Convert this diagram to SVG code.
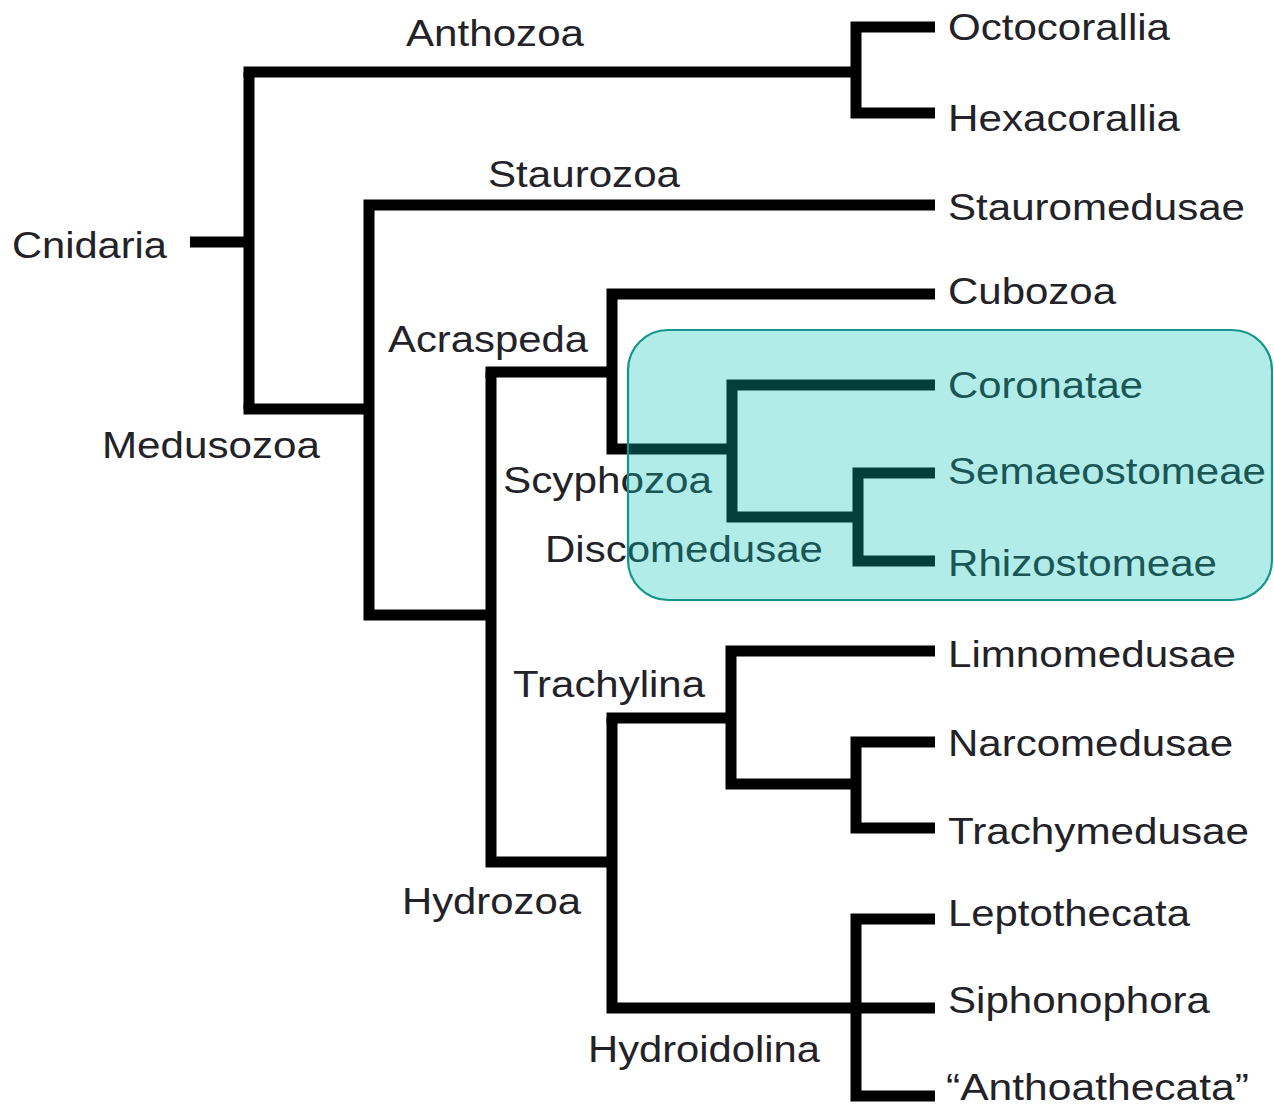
<svg xmlns="http://www.w3.org/2000/svg" width="1274" height="1106" viewBox="0 0 1274 1106">
<style>
.br{fill:none;stroke:#000;stroke-width:11;stroke-linejoin:miter;stroke-linecap:butt}
.lb{font-family:"Liberation Sans",Arial,sans-serif;font-size:37px;fill:#222228}
</style>
<rect width="1274" height="1106" fill="#fff"/>
<g id="connectors">
<path class="br" d="M190,242 H249"/>
<path class="br" d="M249,72 V409"/>
<path class="br" d="M243.5,72 H856"/>
<path class="br" d="M935,27 H856 V113 H935"/>
<path class="br" d="M243.5,409 H369"/>
<path class="br" d="M935,205 H369 V615 H491"/>
<path class="br" d="M491,372 V862 H612"/>
<path class="br" d="M485.5,372 H612"/>
<path class="br" d="M935,294 H612 V449 H732"/>
<path class="br" d="M935,385 H732 V517 H858"/>
<path class="br" d="M935,473 H858 V561 H935"/>
<path class="br" d="M612,718 V1008 H935"/>
<path class="br" d="M606.5,718 H731"/>
<path class="br" d="M935,651 H731 V784 H856"/>
<path class="br" d="M935,742 H856 V828 H935"/>
<path class="br" d="M935,919 H856 V1096 H935"/>
</g>
<g id="labels">
<g id="n-cnidaria"><text class="lb" x="12" y="258" textLength="155" lengthAdjust="spacingAndGlyphs">Cnidaria</text></g>
<g id="n-anthozoa"><text class="lb" x="406" y="46" textLength="178" lengthAdjust="spacingAndGlyphs">Anthozoa</text></g>
<g id="n-octocorallia"><text class="lb" x="948" y="40" textLength="222" lengthAdjust="spacingAndGlyphs">Octocorallia</text></g>
<g id="n-hexacorallia"><text class="lb" x="948" y="131" textLength="232" lengthAdjust="spacingAndGlyphs">Hexacorallia</text></g>
<g id="n-staurozoa"><text class="lb" x="488" y="187" textLength="192" lengthAdjust="spacingAndGlyphs">Staurozoa</text></g>
<g id="n-stauromedusae"><text class="lb" x="948" y="220" textLength="297" lengthAdjust="spacingAndGlyphs">Stauromedusae</text></g>
<g id="n-medusozoa"><text class="lb" x="102" y="458" textLength="218" lengthAdjust="spacingAndGlyphs">Medusozoa</text></g>
<g id="n-cubozoa"><text class="lb" x="948" y="304" textLength="168" lengthAdjust="spacingAndGlyphs">Cubozoa</text></g>
<g id="n-acraspeda"><text class="lb" x="388" y="352" textLength="200" lengthAdjust="spacingAndGlyphs">Acraspeda</text></g>
<g id="n-coronatae"><text class="lb" x="948" y="398" textLength="195" lengthAdjust="spacingAndGlyphs">Coronatae</text></g>
<g id="n-scyphozoa"><text class="lb" x="503" y="493" textLength="209" lengthAdjust="spacingAndGlyphs">Scyphozoa</text></g>
<g id="n-semaeostomeae"><text class="lb" x="948" y="484" textLength="318" lengthAdjust="spacingAndGlyphs">Semaeostomeae</text></g>
<g id="n-discomedusae"><text class="lb" x="545" y="562" textLength="278" lengthAdjust="spacingAndGlyphs">Discomedusae</text></g>
<g id="n-rhizostomeae"><text class="lb" x="948" y="576" textLength="269" lengthAdjust="spacingAndGlyphs">Rhizostomeae</text></g>
<g id="n-limnomedusae"><text class="lb" x="948" y="667" textLength="288" lengthAdjust="spacingAndGlyphs">Limnomedusae</text></g>
<g id="n-trachylina"><text class="lb" x="513" y="697" textLength="192" lengthAdjust="spacingAndGlyphs">Trachylina</text></g>
<g id="n-narcomedusae"><text class="lb" x="948" y="756" textLength="285" lengthAdjust="spacingAndGlyphs">Narcomedusae</text></g>
<g id="n-trachymedusae"><text class="lb" x="948" y="844" textLength="301" lengthAdjust="spacingAndGlyphs">Trachymedusae</text></g>
<g id="n-hydrozoa"><text class="lb" x="402" y="914" textLength="179" lengthAdjust="spacingAndGlyphs">Hydrozoa</text></g>
<g id="n-leptothecata"><text class="lb" x="948" y="926" textLength="242" lengthAdjust="spacingAndGlyphs">Leptothecata</text></g>
<g id="n-siphonophora"><text class="lb" x="948" y="1013" textLength="262" lengthAdjust="spacingAndGlyphs">Siphonophora</text></g>
<g id="n-hydroidolina"><text class="lb" x="588" y="1062" textLength="232" lengthAdjust="spacingAndGlyphs">Hydroidolina</text></g>
<g id="n-anthoathecata"><text class="lb" x="946" y="1100" textLength="303" lengthAdjust="spacingAndGlyphs">“Anthoathecata”</text></g>
</g>
<g id="highlight">
<rect x="628" y="330" width="644" height="270" rx="40" ry="40" fill="#0cc5b9" fill-opacity="0.32" stroke="#14968a" stroke-width="2.2"/>
</g>
</svg>
